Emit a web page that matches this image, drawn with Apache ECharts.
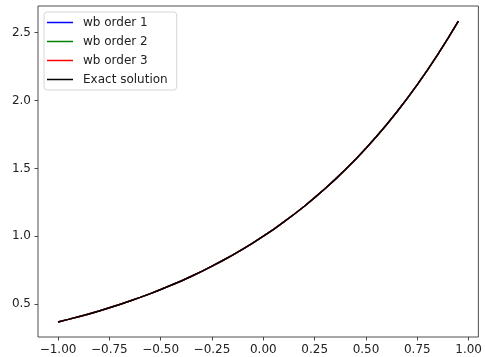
<!DOCTYPE html>
<html>
<head>
<meta charset="utf-8">
<script src="https://cdn.jsdelivr.net/npm/echarts@6/dist/echarts.min.js"></script>
<style>html,body{margin:0;padding:0;background:#fff}#c{width:485px;height:357px}</style>
</head>
<body>
<div id="c"></div>
<script>
const xs = [-1.00,-0.95,-0.90,-0.85,-0.80,-0.75,-0.70,-0.65,-0.60,-0.55,-0.50,-0.45,-0.40,-0.35,-0.30,-0.25,-0.20,-0.15,-0.10,-0.05,
            0.00,0.05,0.10,0.15,0.20,0.25,0.30,0.35,0.40,0.45,0.50,0.55,0.60,0.65,0.70,0.75,0.80,0.85,0.90,0.95];
const exactY = [0.368,0.387,0.407,0.427,0.449,0.472,0.497,0.522,0.549,0.577,0.607,0.638,0.670,0.705,0.741,0.779,0.819,0.861,0.905,0.951,
                1.000,1.051,1.105,1.162,1.221,1.284,1.350,1.419,1.492,1.568,1.649,1.733,1.822,1.916,2.014,2.117,2.226,2.340,2.460,2.586];
const wb1Y = [0.368,0.387,0.407,0.427,0.449,0.472,0.497,0.522,0.549,0.577,0.607,0.638,0.670,0.705,0.741,0.779,0.819,0.861,0.905,0.951,
              1.000,1.051,1.105,1.162,1.221,1.284,1.350,1.419,1.492,1.568,1.649,1.733,1.822,1.916,2.014,2.117,2.226,2.340,2.460,2.586];
const wb2Y = [0.368,0.387,0.407,0.427,0.449,0.472,0.497,0.522,0.549,0.577,0.607,0.638,0.670,0.705,0.741,0.779,0.819,0.861,0.905,0.951,
              1.000,1.051,1.105,1.162,1.221,1.284,1.350,1.419,1.492,1.568,1.649,1.733,1.822,1.916,2.014,2.117,2.226,2.340,2.460,2.586];
const wb3Y = [0.368,0.387,0.407,0.427,0.449,0.472,0.497,0.522,0.549,0.577,0.607,0.638,0.670,0.705,0.741,0.779,0.819,0.861,0.905,0.951,
              1.000,1.051,1.105,1.162,1.221,1.284,1.350,1.419,1.492,1.568,1.649,1.733,1.822,1.916,2.014,2.117,2.226,2.340,2.460,2.586];
const xTicks = [-1.00,-0.75,-0.50,-0.25,0.00,0.25,0.50,0.75,1.00];
const yTicks = [0.5,1.0,1.5,2.0,2.5];
const seriesNames = ['wb order 1','wb order 2','wb order 3','Exact solution'];
const seriesColors = ['#0000ff','#008000','#ff0000','#000000'];
const seriesData = [wb1Y, wb2Y, wb3Y, exactY];

const font = 'DejaVu Sans';
const chart = echarts.init(document.getElementById('c'), null, {renderer:'canvas'});
const fmt = (v, d) => { const s = Math.abs(v).toFixed(d); return (v < -1e-9 ? '\u2212' : '') + s; };
chart.setOption({
  animation: false,
  grid: {left:38, right:5, top:6, bottom:20, show:true, borderColor:'#222', borderWidth:0.8, backgroundColor:'transparent'},
  xAxis: {
    type:'value', min:-1.0975, max:1.0475,
    splitLine:{show:false},
    axisLine:{show:false, onZero:false},
    axisTick:{show:true, length:3.5, customValues:xTicks, lineStyle:{color:'#222', width:0.8}},
    axisLabel:{customValues:xTicks, formatter:v=>fmt(v,2), color:'#222', fontFamily:font, fontSize:12, margin:7}
  },
  yAxis: {
    type:'value', min:0.257, max:2.697,
    splitLine:{show:false},
    axisLine:{show:false, onZero:false},
    axisTick:{show:true, length:3.5, customValues:yTicks, lineStyle:{color:'#222', width:0.8}},
    axisLabel:{customValues:yTicks, formatter:v=>fmt(v,1), color:'#222', fontFamily:font, fontSize:12, margin:7}
  },
  legend: {
    orient:'vertical', left:44, top:12,
    data: seriesNames.map((n,i)=>({name:n, icon:'rect', itemStyle:{color:seriesColors[i]}})),
    itemWidth:26, itemHeight:1.5, itemGap:6,
    padding:[4,9,4,3],
    backgroundColor:'rgba(255,255,255,0.8)', borderColor:'#d6d6d6', borderWidth:1, borderRadius:3,
    textStyle:{fontFamily:font, fontSize:12, color:'#222', padding:[0,0,0,5], lineHeight:13}
  },
  series: seriesNames.map((n,i)=>({
    name:n, type:'line', showSymbol:false, symbol:'none',
    data: xs.map((x,j)=>[x, seriesData[i][j]]),
    lineStyle:{color:seriesColors[i], width:1.5},
    itemStyle:{color:seriesColors[i]},
    smooth:false
  }))
});
</script>
</body>
</html>
